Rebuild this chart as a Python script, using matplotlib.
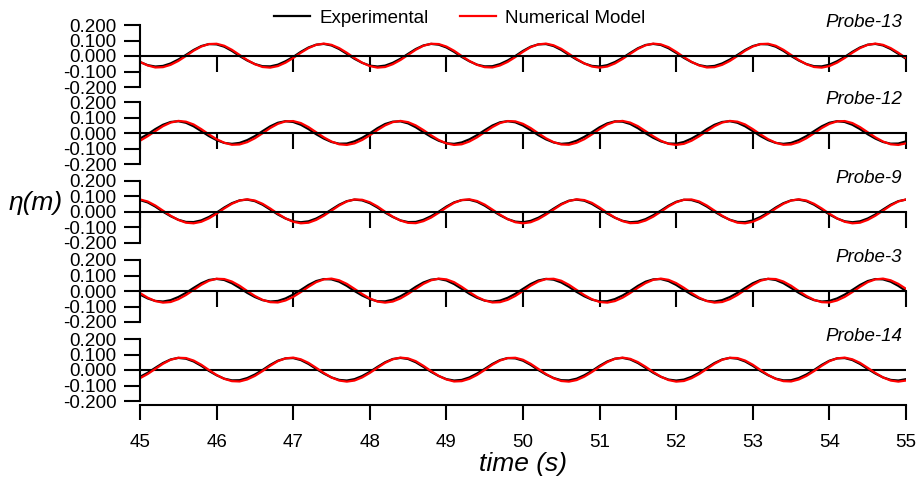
import numpy as np
import matplotlib
matplotlib.use('Agg')
import matplotlib.pyplot as plt
from matplotlib.ticker import FuncFormatter

plt.rcParams['font.family'] = ['Liberation Sans', 'DejaVu Sans']
plt.rcParams['axes.unicode_minus'] = False

# sample times, every 0.1 s between 45 s and 55 s
time = np.linspace(45.0, 55.0, 101)

probes = ['Probe-13', 'Probe-12', 'Probe-9', 'Probe-3', 'Probe-14']

# free surface elevation (m)
exp_13 = [-0.039, -0.059, -0.068, -0.064, -0.048, -0.023, 0.007, 0.039, 0.064, 0.077,
          0.075, 0.060, 0.033, 0.000, -0.029, -0.052, -0.066, -0.067, -0.056, -0.034,
          -0.006, 0.027, 0.055, 0.073, 0.078, 0.068, 0.045, 0.014, -0.018, -0.044,
          -0.062, -0.068, -0.062, -0.044, -0.018, 0.014, 0.045, 0.068, 0.078, 0.073,
          0.055, 0.027, -0.006, -0.034, -0.056, -0.067, -0.066, -0.052, -0.029, 0.000,
          0.033, 0.060, 0.075, 0.077, 0.064, 0.039, 0.007, -0.023, -0.048, -0.064,
          -0.068, -0.059, -0.039, -0.012, 0.020, 0.050, 0.071, 0.078, 0.071, 0.050,
          0.020, -0.012, -0.039, -0.059, -0.068, -0.064, -0.048, -0.023, 0.007, 0.039,
          0.064, 0.077, 0.075, 0.060, 0.033, 0.000, -0.029, -0.052, -0.066, -0.067,
          -0.056, -0.034, -0.006, 0.027, 0.055, 0.073, 0.078, 0.068, 0.045, 0.014,
          -0.018]
num_13 = [-0.038, -0.061, -0.074, -0.072, -0.057, -0.032, 0.000, 0.034, 0.061, 0.077,
          0.079, 0.066, 0.040, 0.007, -0.026, -0.053, -0.071, -0.075, -0.065, -0.043,
          -0.013, 0.021, 0.051, 0.072, 0.080, 0.072, 0.051, 0.021, -0.013, -0.043,
          -0.065, -0.075, -0.071, -0.053, -0.026, 0.007, 0.040, 0.066, 0.079, 0.077,
          0.061, 0.034, 0.000, -0.032, -0.057, -0.072, -0.074, -0.061, -0.038, -0.007,
          0.027, 0.057, 0.075, 0.080, 0.069, 0.046, 0.014, -0.019, -0.048, -0.068,
          -0.075, -0.068, -0.048, -0.019, 0.014, 0.046, 0.069, 0.080, 0.075, 0.057,
          0.027, -0.007, -0.038, -0.061, -0.074, -0.072, -0.057, -0.032, 0.000, 0.034,
          0.061, 0.077, 0.079, 0.066, 0.040, 0.007, -0.026, -0.053, -0.071, -0.075,
          -0.065, -0.043, -0.013, 0.021, 0.051, 0.072, 0.080, 0.072, 0.051, 0.021,
          -0.013]

exp_12 = [-0.034, -0.006, 0.027, 0.055, 0.073, 0.078, 0.068, 0.045, 0.014, -0.018,
          -0.044, -0.062, -0.068, -0.062, -0.044, -0.018, 0.014, 0.045, 0.068, 0.078,
          0.073, 0.055, 0.027, -0.006, -0.034, -0.056, -0.067, -0.066, -0.052, -0.029,
          0.000, 0.033, 0.060, 0.075, 0.077, 0.064, 0.039, 0.007, -0.023, -0.048,
          -0.064, -0.068, -0.059, -0.039, -0.012, 0.020, 0.050, 0.071, 0.078, 0.071,
          0.050, 0.020, -0.012, -0.039, -0.059, -0.068, -0.064, -0.048, -0.023, 0.007,
          0.039, 0.064, 0.077, 0.075, 0.060, 0.033, 0.000, -0.029, -0.052, -0.066,
          -0.067, -0.056, -0.034, -0.006, 0.027, 0.055, 0.073, 0.078, 0.068, 0.045,
          0.014, -0.018, -0.044, -0.062, -0.068, -0.062, -0.044, -0.018, 0.014, 0.045,
          0.068, 0.078, 0.073, 0.055, 0.027, -0.006, -0.034, -0.056, -0.067, -0.066,
          -0.052]
num_12 = [-0.048, -0.019, 0.014, 0.046, 0.069, 0.080, 0.075, 0.057, 0.027, -0.007,
          -0.038, -0.061, -0.074, -0.072, -0.057, -0.032, 0.000, 0.034, 0.061, 0.077,
          0.079, 0.066, 0.040, 0.007, -0.026, -0.053, -0.071, -0.075, -0.065, -0.043,
          -0.013, 0.021, 0.051, 0.072, 0.080, 0.072, 0.051, 0.021, -0.013, -0.043,
          -0.065, -0.075, -0.071, -0.053, -0.026, 0.007, 0.040, 0.066, 0.079, 0.077,
          0.061, 0.034, 0.000, -0.032, -0.057, -0.072, -0.074, -0.061, -0.038, -0.007,
          0.027, 0.057, 0.075, 0.080, 0.069, 0.046, 0.014, -0.019, -0.048, -0.068,
          -0.075, -0.068, -0.048, -0.019, 0.014, 0.046, 0.069, 0.080, 0.075, 0.057,
          0.027, -0.007, -0.038, -0.061, -0.074, -0.072, -0.057, -0.032, 0.000, 0.034,
          0.061, 0.077, 0.079, 0.066, 0.040, 0.007, -0.026, -0.053, -0.071, -0.075,
          -0.065]

exp_9 = [0.075, 0.060, 0.033, 0.000, -0.029, -0.052, -0.066, -0.067, -0.056, -0.034,
         -0.006, 0.027, 0.055, 0.073, 0.078, 0.068, 0.045, 0.014, -0.018, -0.044,
         -0.062, -0.068, -0.062, -0.044, -0.018, 0.014, 0.045, 0.068, 0.078, 0.073,
         0.055, 0.027, -0.006, -0.034, -0.056, -0.067, -0.066, -0.052, -0.029, 0.000,
         0.033, 0.060, 0.075, 0.077, 0.064, 0.039, 0.007, -0.023, -0.048, -0.064,
         -0.068, -0.059, -0.039, -0.012, 0.020, 0.050, 0.071, 0.078, 0.071, 0.050,
         0.020, -0.012, -0.039, -0.059, -0.068, -0.064, -0.048, -0.023, 0.007, 0.039,
         0.064, 0.077, 0.075, 0.060, 0.033, 0.000, -0.029, -0.052, -0.066, -0.067,
         -0.056, -0.034, -0.006, 0.027, 0.055, 0.073, 0.078, 0.068, 0.045, 0.014,
         -0.018, -0.044, -0.062, -0.068, -0.062, -0.044, -0.018, 0.014, 0.045, 0.068,
         0.078]
num_9 = [0.079, 0.066, 0.040, 0.007, -0.026, -0.053, -0.071, -0.075, -0.065, -0.043,
         -0.013, 0.021, 0.051, 0.072, 0.080, 0.072, 0.051, 0.021, -0.013, -0.043,
         -0.065, -0.075, -0.071, -0.053, -0.026, 0.007, 0.040, 0.066, 0.079, 0.077,
         0.061, 0.034, 0.000, -0.032, -0.057, -0.072, -0.074, -0.061, -0.038, -0.007,
         0.027, 0.057, 0.075, 0.080, 0.069, 0.046, 0.014, -0.019, -0.048, -0.068,
         -0.075, -0.068, -0.048, -0.019, 0.014, 0.046, 0.069, 0.080, 0.075, 0.057,
         0.027, -0.007, -0.038, -0.061, -0.074, -0.072, -0.057, -0.032, 0.000, 0.034,
         0.061, 0.077, 0.079, 0.066, 0.040, 0.007, -0.026, -0.053, -0.071, -0.075,
         -0.065, -0.043, -0.013, 0.021, 0.051, 0.072, 0.080, 0.072, 0.051, 0.021,
         -0.013, -0.043, -0.065, -0.075, -0.071, -0.053, -0.026, 0.007, 0.040, 0.066,
         0.079]

exp_3 = [-0.023, -0.048, -0.064, -0.068, -0.059, -0.039, -0.012, 0.020, 0.050, 0.071,
         0.078, 0.071, 0.050, 0.020, -0.012, -0.039, -0.059, -0.068, -0.064, -0.048,
         -0.023, 0.007, 0.039, 0.064, 0.077, 0.075, 0.060, 0.033, 0.000, -0.029,
         -0.052, -0.066, -0.067, -0.056, -0.034, -0.006, 0.027, 0.055, 0.073, 0.078,
         0.068, 0.045, 0.014, -0.018, -0.044, -0.062, -0.068, -0.062, -0.044, -0.018,
         0.014, 0.045, 0.068, 0.078, 0.073, 0.055, 0.027, -0.006, -0.034, -0.056,
         -0.067, -0.066, -0.052, -0.029, 0.000, 0.033, 0.060, 0.075, 0.077, 0.064,
         0.039, 0.007, -0.023, -0.048, -0.064, -0.068, -0.059, -0.039, -0.012, 0.020,
         0.050, 0.071, 0.078, 0.071, 0.050, 0.020, -0.012, -0.039, -0.059, -0.068,
         -0.064, -0.048, -0.023, 0.007, 0.039, 0.064, 0.077, 0.075, 0.060, 0.033,
         0.000]
num_3 = [-0.013, -0.043, -0.065, -0.075, -0.071, -0.053, -0.026, 0.007, 0.040, 0.066,
         0.079, 0.077, 0.061, 0.034, 0.000, -0.032, -0.057, -0.072, -0.074, -0.061,
         -0.038, -0.007, 0.027, 0.057, 0.075, 0.080, 0.069, 0.046, 0.014, -0.019,
         -0.048, -0.068, -0.075, -0.068, -0.048, -0.019, 0.014, 0.046, 0.069, 0.080,
         0.075, 0.057, 0.027, -0.007, -0.038, -0.061, -0.074, -0.072, -0.057, -0.032,
         0.000, 0.034, 0.061, 0.077, 0.079, 0.066, 0.040, 0.007, -0.026, -0.053,
         -0.071, -0.075, -0.065, -0.043, -0.013, 0.021, 0.051, 0.072, 0.080, 0.072,
         0.051, 0.021, -0.013, -0.043, -0.065, -0.075, -0.071, -0.053, -0.026, 0.007,
         0.040, 0.066, 0.079, 0.077, 0.061, 0.034, 0.000, -0.032, -0.057, -0.072,
         -0.074, -0.061, -0.038, -0.007, 0.027, 0.057, 0.075, 0.080, 0.069, 0.046,
         0.014]

exp_14 = [-0.044, -0.018, 0.014, 0.045, 0.068, 0.078, 0.073, 0.055, 0.027, -0.006,
          -0.034, -0.056, -0.067, -0.066, -0.052, -0.029, 0.000, 0.033, 0.060, 0.075,
          0.077, 0.064, 0.039, 0.007, -0.023, -0.048, -0.064, -0.068, -0.059, -0.039,
          -0.012, 0.020, 0.050, 0.071, 0.078, 0.071, 0.050, 0.020, -0.012, -0.039,
          -0.059, -0.068, -0.064, -0.048, -0.023, 0.007, 0.039, 0.064, 0.077, 0.075,
          0.060, 0.033, 0.000, -0.029, -0.052, -0.066, -0.067, -0.056, -0.034, -0.006,
          0.027, 0.055, 0.073, 0.078, 0.068, 0.045, 0.014, -0.018, -0.044, -0.062,
          -0.068, -0.062, -0.044, -0.018, 0.014, 0.045, 0.068, 0.078, 0.073, 0.055,
          0.027, -0.006, -0.034, -0.056, -0.067, -0.066, -0.052, -0.029, 0.000, 0.033,
          0.060, 0.075, 0.077, 0.064, 0.039, 0.007, -0.023, -0.048, -0.064, -0.068,
          -0.059]
num_14 = [-0.053, -0.026, 0.007, 0.040, 0.066, 0.079, 0.077, 0.061, 0.034, 0.000,
          -0.032, -0.057, -0.072, -0.074, -0.061, -0.038, -0.007, 0.027, 0.057, 0.075,
          0.080, 0.069, 0.046, 0.014, -0.019, -0.048, -0.068, -0.075, -0.068, -0.048,
          -0.019, 0.014, 0.046, 0.069, 0.080, 0.075, 0.057, 0.027, -0.007, -0.038,
          -0.061, -0.074, -0.072, -0.057, -0.032, 0.000, 0.034, 0.061, 0.077, 0.079,
          0.066, 0.040, 0.007, -0.026, -0.053, -0.071, -0.075, -0.065, -0.043, -0.013,
          0.021, 0.051, 0.072, 0.080, 0.072, 0.051, 0.021, -0.013, -0.043, -0.065,
          -0.075, -0.071, -0.053, -0.026, 0.007, 0.040, 0.066, 0.079, 0.077, 0.061,
          0.034, 0.000, -0.032, -0.057, -0.072, -0.074, -0.061, -0.038, -0.007, 0.027,
          0.057, 0.075, 0.080, 0.069, 0.046, 0.014, -0.019, -0.048, -0.068, -0.075,
          -0.068]

experimental = [exp_13, exp_12, exp_9, exp_3, exp_14]
numerical = [num_13, num_12, num_9, num_3, num_14]

y_ticks = [0.2, 0.1, 0.0, -0.1, -0.2]
x_ticks = [45, 46, 47, 48, 49, 50, 51, 52, 53, 54, 55]

# layout in pixels
W, H = 918, 479
x_left, x_right = 140, 906
zero_rows = [56, 133.3, 211.7, 291, 370]
half = 31

fig = plt.figure(figsize=(W / 100, H / 100), dpi=100)

fmt = FuncFormatter(lambda v, p: '%.3f' % v)
handles = []
for i, name in enumerate(probes):
    z = zero_rows[i]
    ax = fig.add_axes([x_left / W, 1 - (z + half) / H,
                       (x_right - x_left) / W, 2 * half / H])
    l1, = ax.plot(time, experimental[i], color='black', lw=1.6)
    l2, = ax.plot(time, numerical[i], color='red', lw=1.6)
    if i == 0:
        handles = [l1, l2]
    ax.set_xlim(45, 55)
    ax.set_ylim(-0.2, 0.2)
    ax.spines['top'].set_visible(False)
    ax.spines['right'].set_visible(False)
    ax.spines['left'].set_linewidth(1.5)
    ax.spines['bottom'].set_linewidth(1.5)
    ax.set_yticks(y_ticks)
    ax.yaxis.set_major_formatter(fmt)
    ax.tick_params(axis='y', direction='out', length=11.5, width=1.5,
                   pad=5.5, labelsize=13.5)
    ax.set_xticks(x_ticks)
    if i == len(probes) - 1:
        ax.axhline(0, color='black', lw=1.5, zorder=1)
        ax.spines['bottom'].set_position(('outward', 3))
        ax.tick_params(axis='x', direction='out', length=11, width=1.5,
                       pad=10, labelsize=13.5)
    else:
        ax.spines['bottom'].set_position(('data', 0))
        ax.tick_params(axis='x', direction='out', length=11.3, width=1.5,
                       labelbottom=False)
    ax.patch.set_visible(False)
    ax.text(0.995, 1.04, name, transform=ax.transAxes, ha='right', va='center',
            style='italic', fontsize=13.5)

fig.legend(handles, ['Experimental', 'Numerical Model'], loc='center',
           bbox_to_anchor=(460 / W, 1 - 18 / H), ncol=2, frameon=False,
           fontsize=13.5, handlelength=1.9, handletextpad=0.5, columnspacing=1.7)

fig.text(36 / W, 1 - 203 / H, 'η(m)', ha='center', va='center',
         style='italic', fontsize=19)
fig.text(523 / W, 1 - 464 / H, 'time (s)', ha='center', va='center',
         style='italic', fontsize=19)

fig.savefig('out.png', dpi=100)
